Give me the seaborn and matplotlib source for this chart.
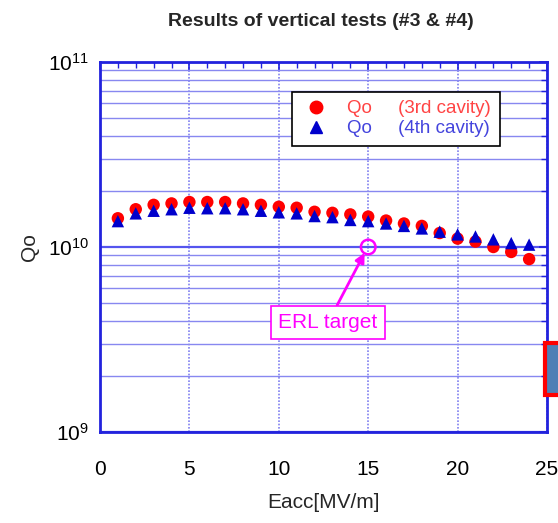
import matplotlib
matplotlib.use("Agg")
import matplotlib.pyplot as plt
import matplotlib.patches as patches
from matplotlib.ticker import LogLocator, FixedLocator, NullFormatter
import seaborn as sns
import pandas as pd

# Eacc [MV/m]
eacc = list(range(1, 25))
# Qo del 3er y 4to cavity
qo_3rd = [1.43e10, 1.60e10, 1.69e10, 1.72e10, 1.75e10, 1.75e10, 1.75e10, 1.72e10,
          1.69e10, 1.65e10, 1.63e10, 1.55e10, 1.53e10, 1.50e10, 1.46e10, 1.39e10,
          1.34e10, 1.30e10, 1.19e10, 1.11e10, 1.07e10, 1.00e10, 0.94e10, 0.86e10]
qo_4th = [1.38e10, 1.52e10, 1.57e10, 1.60e10, 1.63e10, 1.62e10, 1.62e10, 1.60e10,
          1.57e10, 1.54e10, 1.52e10, 1.47e10, 1.45e10, 1.40e10, 1.38e10, 1.34e10,
          1.30e10, 1.26e10, 1.21e10, 1.17e10, 1.14e10, 1.10e10, 1.05e10, 1.03e10]
target_eacc = [15]
target_qo = [1e10]

sns.set_theme(style="white")
plt.rcParams['font.family'] = ['Liberation Sans', 'DejaVu Sans']

df = pd.DataFrame({
    'Eacc': eacc * 2,
    'Qo': qo_3rd + qo_4th,
    'cavity': ['3rd'] * len(eacc) + ['4th'] * len(eacc),
})

fig = plt.figure(figsize=(5.58, 5.23), dpi=100)
ax = fig.add_axes([100 / 558, 1 - 432 / 523, 447 / 558, 370 / 523])

sns.scatterplot(data=df, x='Eacc', y='Qo', hue='cavity', style='cavity',
                palette={'3rd': '#ff0000', '4th': '#0000cc'},
                markers={'3rd': 'o', '4th': '^'}, s=80, linewidth=0,
                ax=ax, legend=False, zorder=3)

ax.set_yscale('log')
ax.set_xlim(0, 25)
ax.set_ylim(1e9, 1e11)

# grilla
ax.yaxis.set_major_locator(LogLocator(base=10, numticks=5))
ax.yaxis.set_minor_locator(LogLocator(base=10, subs=range(2, 10), numticks=20))
ax.yaxis.set_minor_formatter(NullFormatter())
ax.xaxis.set_major_locator(FixedLocator([0, 5, 10, 15, 20, 25]))
ax.xaxis.set_minor_locator(FixedLocator(range(0, 26)))
ax.grid(True, which='major', axis='y', color='#5555ee', linewidth=1.6)
ax.grid(True, which='minor', axis='y', color='#8888f0', linewidth=1.0)
ax.grid(True, which='major', axis='x', color='#8080f0', linewidth=1.2, linestyle=(0, (1, 1)))
ax.set_axisbelow(True)

for sp in ax.spines.values():
    sp.set_color('#2222dd')
    sp.set_linewidth(2)
ax.tick_params(which='both', direction='in', colors='#2222dd', top=True, right=True,
               labelcolor='black', labelsize=15)
ax.tick_params(which='major', length=6, width=1.2)
ax.tick_params(which='minor', length=4, width=1.0)
ax.tick_params(axis='x', pad=20)
ax.tick_params(axis='y', pad=8)

ax.set_xlabel('Eacc[MV/m]', fontsize=15, labelpad=10)
ax.set_ylabel('Qo', fontsize=15, labelpad=6)
fig.suptitle('Results of vertical tests (#3 & #4)', fontsize=14, fontweight='heavy',
             x=0.575, y=0.975)

# ERL target
sns.scatterplot(x=target_eacc, y=target_qo, marker='o', s=110, facecolor='none',
                edgecolor='#ff00ff', linewidth=1.8, ax=ax, zorder=4)
ax.annotate('ERL target', xy=(target_eacc[0] - 0.2, target_qo[0] * 0.93),
            xytext=(12.75, 3.9e9), ha='center', va='center', fontsize=15,
            color='#ff00ff',
            bbox=dict(boxstyle='square,pad=0.35', facecolor='white', edgecolor='#ff00ff',
                      linewidth=1.2),
            arrowprops=dict(arrowstyle='-|>', color='#ff00ff', linewidth=2,
                            mutation_scale=14, shrinkA=0, shrinkB=0))

# leyenda
h1, = ax.plot([], [], 'o', color='#ff0000', markersize=9, linestyle='none')
h2, = ax.plot([], [], '^', color='#0000cc', markersize=8, linestyle='none')
leg = ax.legend([h1, h2], ['Qo     (3rd cavity)', 'Qo     (4th cavity)'],
                loc='upper right', bbox_to_anchor=(0.915, 0.945), fontsize=13.5,
                frameon=True, fancybox=False, edgecolor='black', framealpha=1,
                handletextpad=0.9, handlelength=1.6, borderpad=0.45, labelspacing=0.15)
leg.get_frame().set_linewidth(1.2)
leg.get_texts()[0].set_color('#ff4444')
leg.get_texts()[1].set_color('#4444dd')

# recuadro rojo recortado a la derecha
fig.patches.append(patches.Rectangle((545 / 558, 1 - 395 / 523), 20 / 558, 52 / 523,
                                     transform=fig.transFigure, facecolor='#4f7fb5',
                                     edgecolor='#ff0000', linewidth=3, clip_on=False))

fig.savefig('out.png', dpi=100)
